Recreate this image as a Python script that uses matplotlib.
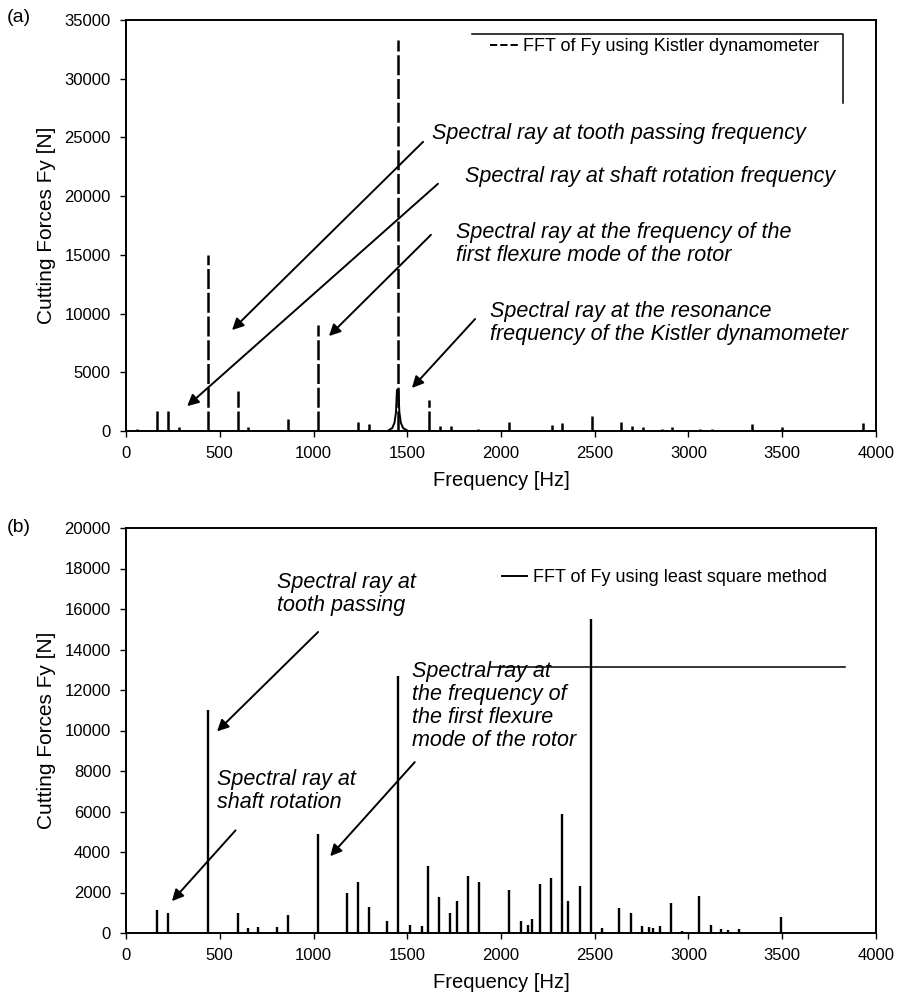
import matplotlib
matplotlib.use("Agg")
import matplotlib.pyplot as plt
from matplotlib.lines import Line2D

plt.rcParams['font.family'] = ['Liberation Sans', 'DejaVu Sans']

# (a) FFT of Fy, Kistler dynamometer: spectral rays [Hz], [N]
freq_a = [60, 164, 226, 284, 436, 596, 653, 862, 1022, 1239, 1298, 1449, 1616, 1675,
          1733, 1877, 2043, 2270, 2323, 2487, 2640, 2697, 2759, 2857, 2910, 3061,
          3124, 3177, 3337, 3497, 3932]
amp_a = [200, 2000, 1900, 300, 15000, 3400, 300, 1000, 9000, 800, 600, 33300, 2600, 400,
         400, 200, 800, 500, 700, 1300, 800, 400, 300, 200, 300, 200,
         150, 100, 600, 300, 650]
# resonance skirt around the 1449 Hz ray
skirt_f = [1395, 1420, 1432, 1440, 1445, 1453, 1458, 1466, 1478, 1505]
skirt_a = [0, 250, 700, 1600, 3500, 3500, 1600, 700, 250, 0]

# (b) FFT of Fy, least square method
freq_b = [164, 222, 436, 596, 653, 704, 805, 862, 1022, 1180, 1236, 1295, 1390, 1449,
          1515, 1577, 1612, 1672, 1728, 1768, 1826, 1884, 2045, 2107, 2142, 2167,
          2208, 2265, 2323, 2359, 2421, 2480, 2537, 2631, 2693, 2750, 2789, 2811,
          2848, 2905, 2963, 3058, 3118, 3171, 3212, 3271, 3493]
amp_b = [1150, 1000, 11000, 1000, 250, 300, 300, 900, 4900, 2000, 2500, 1300, 600, 12700,
         400, 350, 3300, 1800, 1000, 1600, 2800, 2500, 2100, 600, 400, 700,
         2400, 2700, 5900, 1600, 2300, 15500, 250, 1250, 1000, 350, 300, 250,
         350, 1500, 100, 1850, 400, 200, 150, 200, 800]

xticks = list(range(0, 4001, 500))
yticks_a = list(range(0, 35001, 5000))
yticks_b = list(range(0, 20001, 2000))

fig = plt.figure(figsize=(8.97, 10), dpi=100)
ax1 = fig.add_axes([0.1405, 0.569, 0.836, 0.411])
ax2 = fig.add_axes([0.1405, 0.067, 0.836, 0.405])


def style(ax, yticks):
    ax.set_xlim(0, 4000)
    ax.set_ylim(0, yticks[-1])
    ax.set_xticks(xticks)
    ax.set_yticks(yticks)
    ax.tick_params(direction='out', length=4, width=1, labelsize=12, pad=7)
    for s in ax.spines.values():
        s.set_linewidth(1.4)
    ax.set_xlabel('Frequency [Hz]', fontsize=14.5, labelpad=7)
    ax.set_ylabel('Cutting Forces Fy [N]', fontsize=15, labelpad=6)


style(ax1, yticks_a)
style(ax2, yticks_b)

ax1.vlines(freq_a, 0, amp_a, colors='black', lw=1.8, linestyles=(0, (8, 1.5)))
ax1.plot(skirt_f, skirt_a, color='black', lw=1.4)
ax2.vlines(freq_b, 0, amp_b, colors='black', lw=1.7)

# legends (scanned partial frames)
ax1.legend([Line2D([], [], color='black', lw=1.4, ls='--')],
           ['FFT of Fy using Kistler dynamometer'], frameon=False,
           loc='center', bbox_to_anchor=(0.705, 0.935), fontsize=13,
           handlelength=1.6, handletextpad=0.2)
ax1.add_line(Line2D([0.461, 0.956, 0.956], [0.966, 0.966, 0.798],
                    transform=ax1.transAxes, color='black', lw=1.1))
ax2.legend([Line2D([], [], color='black', lw=1.4)],
           ['FFT of Fy using least square method'], frameon=False,
           loc='center', bbox_to_anchor=(0.718, 0.877), fontsize=13,
           handlelength=1.4, handletextpad=0.3)
ax2.add_line(Line2D([0.485, 0.959], [0.657, 0.657],
                    transform=ax2.transAxes, color='black', lw=1.1))

arrow = dict(arrowstyle='-|>', color='black', lw=1.4, mutation_scale=17)
tkw = dict(fontsize=15.5, style='italic', ha='left', va='center')

# (a) annotations
ax1.annotate('', xy=(555, 8430), xytext=(1595, 24790), arrowprops=arrow)
ax1.annotate('', xy=(315, 1960), xytext=(1675, 21210), arrowprops=arrow)
ax1.annotate('', xy=(1072, 7920), xytext=(1637, 16870), arrowprops=arrow)
ax1.annotate('', xy=(1515, 3490), xytext=(1872, 9710), arrowprops=arrow)
ax1.text(1632, 25300, 'Spectral ray at tooth passing frequency', **tkw)
ax1.text(1808, 21640, 'Spectral ray at shaft rotation frequency', **tkw)
ax1.text(1760, 15890, 'Spectral ray at the frequency of the\nfirst flexure mode of the rotor',
         linespacing=1.12, **tkw)
ax1.text(1941, 9160, 'Spectral ray at the resonance\nfrequency of the Kistler dynamometer',
         linespacing=1.12, **tkw)

# (b) annotations
ax2.annotate('', xy=(475, 9860), xytext=(1035, 14960), arrowprops=arrow)
ax2.annotate('', xy=(235, 1470), xytext=(594, 5170), arrowprops=arrow)
ax2.annotate('', xy=(1079, 3690), xytext=(1550, 8540), arrowprops=arrow)
ax2.text(805, 16740, 'Spectral ray at\ntooth passing', linespacing=1.12, **tkw)
ax2.text(484, 7020, 'Spectral ray at\nshaft rotation', linespacing=1.12, **tkw)
ax2.text(1524, 11210, 'Spectral ray at\nthe frequency of\nthe first flexure\nmode of the rotor',
         linespacing=1.12, **tkw)

fig.text(0.008, 0.982, '(a)', fontsize=14, va='center')
fig.text(0.008, 0.473, '(b)', fontsize=14, va='center')

fig.savefig('out.png', dpi=100)
